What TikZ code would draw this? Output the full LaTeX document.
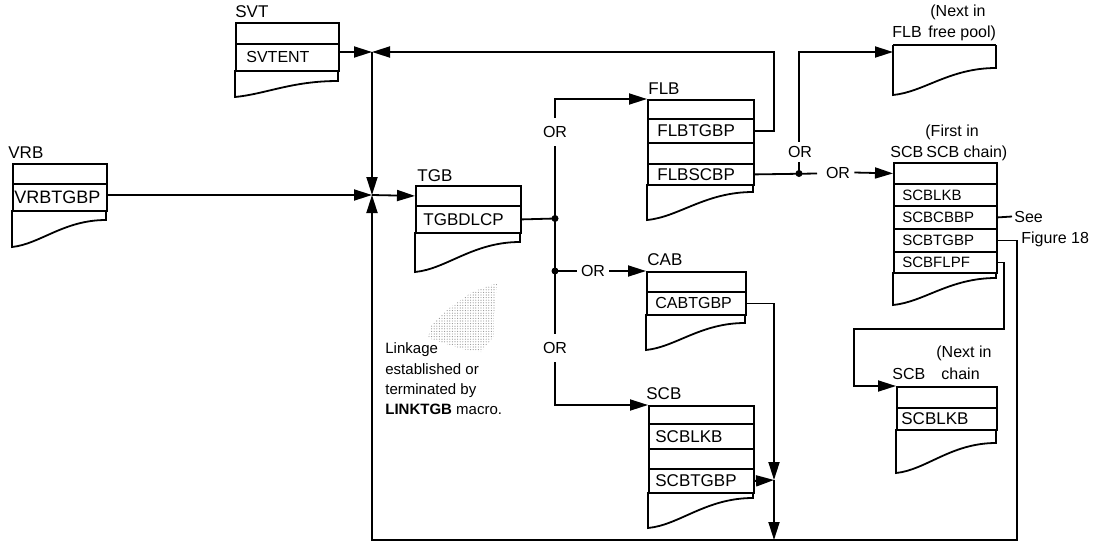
\documentclass[tikz,border=0pt]{standalone}
\usepackage{fontspec}
\setmainfont{Liberation Sans}
\usetikzlibrary{arrows.meta,patterns.meta}
\tikzset{
  ln/.style={line width=0.9pt},
  cellbox/.style={draw, line width=0.9pt, inner sep=0pt, anchor=north west},
  txt/.style={inner sep=0pt, anchor=west},
  lbl/.style={inner sep=0pt, anchor=base west, font=\fontsize{8.5}{10}\selectfont},
  smalllbl/.style={inner sep=0pt, anchor=base west, font=\fontsize{8}{10}\selectfont},
  note/.style={inner sep=0pt, anchor=base west, font=\fontsize{7.5}{10}\selectfont},
  arr/.style={-{Triangle[length=9pt,width=5.5pt]}},
  jdot/.style={circle, fill, inner sep=0pt, minimum size=3.5pt},
  orw/.style={fill=white, inner xsep=1pt, inner ysep=4pt, font=\fontsize{8}{10}\selectfont},
  orn/.style={inner sep=2pt, font=\fontsize{8}{10}\selectfont},
}
% #1 name, #2 left, #3 top, #4 bottom, #5 width, #6 text pad, #7 font size, #8 text
\newcommand\recrow[8]{%
  \pgfmathsetmacro\rcw{#5*0.5}\pgfmathsetmacro\rch{(#4-#3)*0.5}%
  \node[cellbox, minimum width=\rcw pt, minimum height=\rch pt] (#1) at (#2,#3) {};
  \node[txt, font=\fontsize{#7}{#7}\selectfont] at ([xshift=#6*0.5pt]#1.west) {#8};}
% #1 left, #2 right, #3 last row line, #4 right bottom, #5 left bottom
\newcommand\recbot[5]{%
  \draw[ln] (#1,#3) -- (#1,#5) .. controls ({#1+0.3*(#2-#1)},{#5-3}) and ({#1+0.55*(#2-#1)},#4) .. (#2,#4) -- (#2,#3);}
\begin{document}
\begin{tikzpicture}[x=0.5pt,y=-0.5pt]
\useasboundingbox (0,0) rectangle (1098,542);

% stipple patch
\fill[pattern={Dots[distance=1.3pt,radius=0.28pt]}, pattern color=gray!85] (497,283) -- (495,305) -- (494,336) -- (481,352) -- (462,349) -- (428,338) -- (431,326) -- (448,309) -- (472,292) -- cycle;

% SVT
\node[lbl] at (235,17) {SVT};
\recrow{svttop}{235}{22}{43}{103}{0}{8}{}
\recrow{svtent}{235}{43}{70}{103}{11}{8}{SVTENT}
\recbot{235}{338}{70}{81}{97}

% VRB
\node[lbl] at (8,158) {VRB};
\recrow{vrbtop}{12}{163}{183}{94}{0}{9}{}
\recrow{vrbtgbp}{12}{183}{210}{94}{2}{9}{VRBTGBP}
\recbot{12}{106}{210}{220}{247}

% TGB
\node[lbl] at (417,181) {TGB};
\recrow{tgbtop}{415}{185}{205}{105}{0}{8.5}{}
\recrow{tgbdlcp}{415}{205}{232}{105}{8}{8.5}{TGBDLCP}
\recbot{415}{520}{232}{242}{272}

% FLB
\node[lbl] at (648,94) {FLB};
\recrow{flbtop}{647}{99}{118}{106}{0}{8.5}{}
\recrow{flbtgbp}{647}{118}{142}{106}{10}{8.5}{FLBTGBP}
\recrow{flbmid}{647}{142}{163}{106}{0}{8.5}{}
\recrow{flbscbp}{647}{163}{184}{106}{10}{8.5}{FLBSCBP}
\recbot{647}{753}{184}{192}{220}

% CAB
\node[lbl] at (647,265) {CAB};
\recrow{cabtop}{646}{271}{291}{99}{0}{8}{}
\recrow{cabtgbp}{646}{291}{314}{99}{9}{8}{CABTGBP}
\recbot{646}{745}{314}{323}{350}

% SCB (lower)
\node[lbl] at (646,399) {SCB};
\recrow{scbtop}{648}{405}{423}{105}{0}{8.5}{}
\recrow{scblkb}{648}{423}{448}{105}{7}{8.5}{SCBLKB}
\recrow{scbmid}{648}{448}{468}{105}{0}{8.5}{}
\recrow{scbtgbp}{648}{468}{492}{105}{7}{8.5}{SCBTGBP}
\recbot{648}{753}{492}{498}{528}

% FLB free pool
\node[smalllbl] at (930,16) {(Next in};
\node[smalllbl] at (892,37) {FLB};
\node[smalllbl] at (928,37) {free pool)};
\draw[ln] (893,45) -- (996,45);
\recbot{893}{996}{45}{68}{95}

% SCB first in chain
\node[smalllbl] at (925,136) {(First in};
\node[smalllbl] at (890,157) {SCB};
\node[smalllbl] at (926,157) {SCB chain)};
\recrow{sonetop}{893}{162}{183}{103}{0}{7.5}{}
\recrow{sonelkb}{893}{183}{205}{103}{9}{7.5}{SCBLKB}
\recrow{sonecbbp}{893}{205}{228}{103}{9}{7.5}{SCBCBBP}
\recrow{sonetgbp}{893}{228}{251}{103}{9}{7.5}{SCBTGBP}
\recrow{soneflpf}{893}{251}{272}{103}{9}{7.5}{SCBFLPF}
\recbot{893}{996}{272}{278}{305}

% SCB next in chain
\node[smalllbl] at (936,357) {(Next in};
\node[smalllbl] at (892,379) {SCB};
\node[smalllbl] at (941,379) {chain};
\recrow{sntop}{896}{386}{407}{100}{0}{8.5}{}
\recrow{snlkb}{896}{407}{429}{100}{5}{8.5}{SCBLKB}
\recbot{896}{996}{429}{443}{473}

% note
\node[note] (n1) at (385,353) {Linkage};
\node[note] (n2) at (385,374) {established or};
\node[note] (n3) at (385,394) {terminated by};
\node[note] (n4) at (385,414) {\textbf{LINKTGB} macro.};

% junctions
\coordinate (jtop) at (372,52);
\coordinate (jmid) at (372,195);
\coordinate (jbot) at (372,540);
\coordinate (jbr) at (1017,540);
\coordinate (jm) at (774,480);
\coordinate (jc) at (774,540);
\coordinate (fe) at (817,173.5);
\coordinate (fpin) at (893,52);
\coordinate (lpa) at (1004,329);
\coordinate (lpb) at (854,329);
\node[jdot] (dT) at (555,218.5) {};
\node[jdot] (dC) at (555,271) {};
\node[jdot] (dF) at (799,173.5) {};

% connectors
\draw[ln,arr] (svtent.east |- jtop) -- (jtop);
\draw[ln,arr] (flbtgbp.east) -- ++(19,0) |- (jtop);
\draw[ln,arr] (jtop) -- (jmid);
\draw[ln,arr] (vrbtgbp.east |- jmid) -- (jmid);
\draw[ln,arr] (sonetgbp.east) -| (jbr) -- (jbot) -- (jmid);
\draw[ln,arr] (jmid) -- (tgbtop.west);
\draw[ln] (tgbdlcp.east) -- (dT.center);
\draw[ln,arr] (dT.center) |- (flbtop.north west);
\draw[ln] (dT.center) -- (dC.center);
\draw[ln,arr] (dC.center) |- (scbtop.north west);
\node[orw] at (555,132) {OR};
\node[orw] at (555,348) {OR};
\node[orn] (orC) at (593,271) {OR};
\draw[ln] (dC.center) -- (orC.west);
\draw[ln,arr] (orC.east) -- (cabtop.north west);
\draw[ln,arr] (cabtgbp.east) -| (jm);
\draw[ln,arr] (scbtgbp.east) -- (jm);
\draw[ln,arr] (jm) -- (jc);
\draw[ln] (flbscbp.east) -- (fe);
\draw[ln,arr] (dF.center) |- (fpin);
\node[orw, inner ysep=2pt] at (800,152) {OR};
\node[orn] (orS) at (838,172.5) {OR};
\draw[ln,arr] (orS.east) -- (sonetop.west);
\node[txt, inner xsep=1pt, font=\fontsize{8}{10}\selectfont] (see) at (1012,216.5) {See};
\draw[ln] (sonecbbp.east) -- (see.west);
\node[txt, font=\fontsize{8}{10}\selectfont] (fig) at (1021,239.5) {Figure 18};
\draw[ln,arr] (soneflpf.east) -| (lpa) -- (lpb) |- (sntop.north west);
\end{tikzpicture}
\end{document}
